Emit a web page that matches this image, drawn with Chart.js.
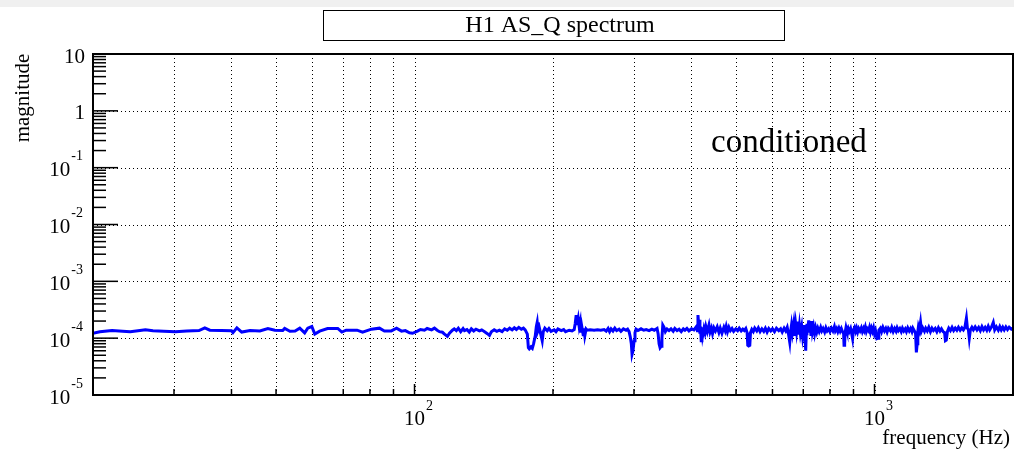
<!DOCTYPE html>
<html lang="en">
<head>
<meta charset="UTF-8">
<title>H1 AS_Q spectrum</title>
<script src="https://cdn.jsdelivr.net/npm/chart.js"></script>
<style>
  body { margin: 0; background: #fff; }
  #topBand { position: absolute; left: 0; top: 0; width: 1014px; height: 7px; background: #f0f0f0; }
  #wrap { position: absolute; left: 0; top: 0; width: 1014px; height: 450px; }
</style>
</head>
<body>
<div id="topBand"></div>
<div id="wrap"><canvas id="specChart"></canvas></div>
<script>
// spectrum (Hz, magnitude)
const freqHz = [
  20.0, 20.7, 22.0, 23.2, 24.1, 25.3, 26.0, 27.0, 28.5, 30.2, 32.0, 34.0, 35.0, 35.9, 38.0, 40.0, 40.3, 41.1, 42.1, 43.9,
  46.1, 48.0, 49.7, 51.7, 52.2, 53.6, 55.0, 56.3, 57.7, 58.6, 59.8, 60.7, 62.2, 64.7, 68.1, 69.5, 71.0, 75.0, 77.1, 80.6,
  83.9, 86.0, 89.0, 91.4, 93.7, 95.5, 97.5, 99.0, 101.5, 103.0, 105.1, 106.5, 108.9, 110.5, 112.0, 113.3, 115.0, 116.2, 117.9, 119.1,
  120.9, 122.0, 123.3, 124.5, 126.0, 127.5, 128.4, 130.0, 131.5, 132.9, 134.5, 136.0, 138.4, 140.0, 142.0, 144.0, 145.5, 146.9, 149.0, 151.0,
  152.9, 155.0, 157.0, 159.1, 161.0, 163.0, 164.8, 166.5, 168.5, 170.7, 172.5, 174.0, 175.9, 176.8, 177.6, 179.0, 180.3, 181.5, 183.0, 184.0,
  184.8, 185.5, 186.7, 188.0, 189.5, 190.5, 192.0, 194.3, 196.0, 198.0, 201.2, 203.0, 205.0, 208.4, 211.0, 213.0, 216.9, 220.0, 222.4, 223.5,
  224.6, 225.5, 226.9, 228.0, 229.2, 230.0, 231.0, 232.6, 233.5, 234.5, 236.0, 237.3, 241.0, 245.7, 250.0, 254.0, 258.3, 261.0, 263.5, 265.5,
  267.5, 270.0, 272.5, 275.0, 278.4, 281.0, 284.5, 288.3, 290.5, 292.7, 294.5, 296.0, 297.1, 298.5, 300.1, 301.5, 303.1, 306.0, 310.8, 315.0,
  319.0, 323.5, 328.0, 332.0, 336.7, 338.5, 340.1, 341.8, 343.5, 345.0, 346.5, 348.7, 351.0, 354.0, 357.5, 361.0, 365.0, 368.0, 372.1, 376.0,
  380.0, 384.0, 387.2, 391.0, 395.0, 400.0, 405.0, 408.0, 410.5, 412.0, 413.2, 414.5, 415.5, 417.3, 418.5, 420.0, 421.5, 423.0, 425.8, 428.0,
  430.0, 433.0, 436.6, 439.0, 442.0, 444.5, 447.6, 451.0, 455.0, 458.9, 462.0, 466.0, 470.5, 473.5, 476.0, 479.0, 482.4, 486.0, 490.0, 494.0,
  499.4, 504.0, 508.0, 513.0, 517.2, 521.0, 525.0, 528.5, 530.2, 532.5, 535.6, 537.5, 541.0, 545.0, 549.0, 554.6, 559.0, 564.0, 569.0, 574.4,
  579.0, 584.0, 589.0, 594.9, 600.0, 606.0, 612.0, 619.2, 625.0, 630.0, 636.0, 641.2, 646.0, 650.0, 654.2, 657.0, 660.0, 663.0, 667.4, 670.5,
  674.0, 677.0, 680.8, 684.0, 687.0, 690.0, 694.5, 698.0, 701.0, 704.0, 706.5, 708.6, 710.5, 713.0, 716.0, 719.3, 722.0, 725.0, 727.5, 730.2,
  733.0, 737.0, 741.0, 744.9, 749.0, 753.0, 758.0, 763.7, 768.0, 773.0, 779.0, 784.0, 789.0, 794.8, 800.0, 806.0, 812.0, 818.0, 822.0, 827.3,
  832.0, 837.0, 842.0, 847.0, 852.0, 856.7, 858.5, 861.0, 863.0, 867.0, 871.0, 876.0, 881.0, 887.1, 892.0, 896.1, 900.0, 905.0, 910.0, 914.2,
  919.0, 924.0, 930.0, 936.0, 941.0, 946.6, 950.0, 955.0, 960.0, 965.0, 970.5, 975.0, 980.0, 985.0, 990.0, 995.0, 1000, 1005, 1012, 1018,
  1022, 1030, 1036, 1043, 1051, 1058, 1065, 1072, 1083, 1090, 1098, 1106, 1114, 1120, 1127, 1135, 1143, 1150, 1158, 1166,
  1173, 1181, 1190, 1198, 1206, 1212, 1220, 1228, 1233, 1238, 1242, 1246, 1252, 1259, 1265, 1273, 1284, 1292, 1302, 1312,
  1323, 1333, 1343, 1355, 1366, 1377, 1388, 1398, 1410, 1420, 1426, 1432, 1440, 1450, 1462, 1474, 1486, 1498, 1510, 1522,
  1535, 1548, 1560, 1572, 1584, 1592, 1600, 1607, 1615, 1628, 1640, 1655, 1670, 1684, 1698, 1712, 1726, 1740, 1754, 1767,
  1780, 1795, 1812, 1825, 1840, 1858, 1872, 1886, 1900, 1914, 1930, 1946, 1962, 1983, 2000
];
const magnitude = [
  1.22e-4, 1.30e-4, 1.36e-4, 1.33e-4, 1.30e-4, 1.36e-4, 1.40e-4, 1.35e-4, 1.33e-4, 1.30e-4, 1.34e-4, 1.36e-4, 1.52e-4, 1.38e-4, 1.36e-4, 1.35e-4, 1.25e-4, 1.52e-4, 1.28e-4, 1.36e-4,
  1.34e-4, 1.48e-4, 1.38e-4, 1.36e-4, 1.48e-4, 1.32e-4, 1.34e-4, 1.50e-4, 1.24e-4, 1.50e-4, 1.60e-4, 1.18e-4, 1.33e-4, 1.48e-4, 1.48e-4, 1.28e-4, 1.38e-4, 1.38e-4, 1.27e-4, 1.44e-4,
  1.50e-4, 1.34e-4, 1.34e-4, 1.50e-4, 1.33e-4, 1.36e-4, 1.24e-4, 1.22e-4, 1.33e-4, 1.42e-4, 1.38e-4, 1.48e-4, 1.40e-4, 1.50e-4, 1.38e-4, 1.30e-4, 1.27e-4, 1.18e-4, 1.08e-4, 1.22e-4,
  1.38e-4, 1.46e-4, 1.36e-4, 1.50e-4, 1.30e-4, 1.48e-4, 1.36e-4, 1.42e-4, 1.28e-4, 1.46e-4, 1.34e-4, 1.44e-4, 1.34e-4, 1.40e-4, 1.30e-4, 1.20e-4, 1.12e-4, 1.30e-4, 1.40e-4, 1.32e-4,
  1.38e-4, 1.30e-4, 1.46e-4, 1.38e-4, 1.50e-4, 1.40e-4, 1.52e-4, 1.42e-4, 1.55e-4, 1.44e-4, 1.50e-4, 1.40e-4, 1.18e-4, 6.8e-5, 6.5e-5, 7.0e-5, 6.6e-5, 8.0e-5, 1.10e-4, 1.60e-4,
  1.90e-4, 1.35e-4, 1.55e-4, 1.20e-4, 9.0e-5, 1.30e-4, 1.50e-4, 1.35e-4, 1.48e-4, 1.32e-4, 1.40e-4, 1.30e-4, 1.45e-4, 1.36e-4, 1.42e-4, 1.30e-4, 1.38e-4, 1.34e-4, 1.42e-4, 1.80e-4,
  2.55e-4, 1.70e-4, 2.20e-4, 1.60e-4, 1.95e-4, 1.25e-4, 1.60e-4, 1.15e-4, 1.50e-4, 1.10e-4, 1.45e-4, 1.38e-4, 1.40e-4, 1.38e-4, 1.40e-4, 1.38e-4, 1.42e-4, 1.33e-4, 1.48e-4, 1.30e-4,
  1.46e-4, 1.34e-4, 1.50e-4, 1.36e-4, 1.44e-4, 1.32e-4, 1.46e-4, 1.38e-4, 1.44e-4, 1.30e-4, 1.05e-4, 8.0e-5, 5.2e-5, 6.0e-5, 9.0e-5, 1.25e-4, 1.44e-4, 1.36e-4, 1.46e-4, 1.38e-4,
  1.42e-4, 1.36e-4, 1.44e-4, 1.38e-4, 1.48e-4, 1.20e-4, 8.0e-5, 6.8e-5, 7.2e-5, 1.00e-4, 1.70e-4, 1.55e-4, 1.30e-4, 1.45e-4, 1.36e-4, 1.46e-4, 1.32e-4, 1.48e-4, 1.36e-4, 1.44e-4,
  1.30e-4, 1.46e-4, 1.38e-4, 1.48e-4, 1.34e-4, 1.46e-4, 1.40e-4, 1.52e-4, 1.62e-4, 1.35e-4, 2.55e-4, 1.80e-4, 2.10e-4, 1.20e-4, 1.60e-4, 9.0e-5, 1.55e-4, 1.10e-4, 1.48e-4, 1.25e-4,
  1.60e-4, 1.30e-4, 1.70e-4, 1.28e-4, 1.50e-4, 1.20e-4, 1.52e-4, 1.34e-4, 1.58e-4, 1.26e-4, 1.50e-4, 1.22e-4, 1.55e-4, 1.35e-4, 1.62e-4, 1.30e-4, 1.56e-4, 1.36e-4, 1.48e-4, 1.32e-4,
  1.46e-4, 1.36e-4, 1.50e-4, 1.34e-4, 1.44e-4, 1.36e-4, 1.48e-4, 1.25e-4, 7.5e-5, 7.3e-5, 7.5e-5, 1.25e-4, 1.42e-4, 1.30e-4, 1.50e-4, 1.34e-4, 1.52e-4, 1.30e-4, 1.46e-4, 1.32e-4,
  1.50e-4, 1.28e-4, 1.48e-4, 1.34e-4, 1.46e-4, 1.30e-4, 1.50e-4, 1.36e-4, 1.46e-4, 1.28e-4, 1.50e-4, 1.34e-4, 1.55e-4, 1.20e-4, 8.5e-5, 1.30e-4, 1.70e-4, 1.25e-4, 1.80e-4, 1.10e-4,
  1.75e-4, 1.30e-4, 1.95e-4, 1.15e-4, 1.65e-4, 1.20e-4, 1.60e-4, 1.05e-4, 1.30e-4, 1.70e-4, 9.5e-5, 6.0e-5, 1.20e-4, 1.80e-4, 1.30e-4, 2.05e-4, 1.25e-4, 1.75e-4, 1.10e-4, 2.00e-4,
  1.30e-4, 1.60e-4, 1.20e-4, 1.52e-4, 1.28e-4, 1.50e-4, 1.30e-4, 1.55e-4, 1.34e-4, 1.48e-4, 1.28e-4, 1.52e-4, 1.34e-4, 1.46e-4, 1.30e-4, 1.50e-4, 1.34e-4, 1.60e-4, 1.34e-4, 1.48e-4,
  1.30e-4, 1.50e-4, 1.32e-4, 1.48e-4, 1.30e-4, 1.20e-4, 7.5e-5, 7.8e-5, 1.25e-4, 1.55e-4, 1.34e-4, 1.50e-4, 1.30e-4, 1.48e-4, 1.20e-4, 9.8e-5, 1.40e-4, 1.55e-4, 1.32e-4, 1.50e-4,
  1.28e-4, 1.48e-4, 1.34e-4, 1.52e-4, 1.30e-4, 1.48e-4, 1.36e-4, 1.58e-4, 1.30e-4, 1.46e-4, 1.36e-4, 1.55e-4, 1.28e-4, 1.50e-4, 1.32e-4, 1.52e-4, 1.20e-4, 1.35e-4, 9.8e-5, 1.00e-4,
  1.38e-4, 1.50e-4, 1.30e-4, 1.55e-4, 1.34e-4, 1.48e-4, 1.28e-4, 1.50e-4, 1.34e-4, 1.55e-4, 1.30e-4, 1.48e-4, 1.32e-4, 1.52e-4, 1.36e-4, 1.48e-4, 1.30e-4, 1.50e-4, 1.34e-4, 1.46e-4,
  1.30e-4, 1.52e-4, 1.34e-4, 1.48e-4, 1.30e-4, 1.50e-4, 1.36e-4, 1.22e-4, 5.6e-5, 8.0e-5, 1.30e-4, 1.60e-4, 1.40e-4, 1.90e-4, 1.34e-4, 1.52e-4, 1.32e-4, 1.50e-4, 1.34e-4, 1.55e-4,
  1.30e-4, 1.50e-4, 1.36e-4, 1.48e-4, 1.30e-4, 1.52e-4, 1.34e-4, 1.46e-4, 1.30e-4, 1.25e-4, 9.0e-5, 9.2e-5, 1.30e-4, 1.50e-4, 1.36e-4, 1.55e-4, 1.36e-4, 1.50e-4, 1.38e-4, 1.55e-4,
  1.38e-4, 1.52e-4, 1.40e-4, 1.55e-4, 2.25e-4, 1.50e-4, 1.40e-4, 1.00e-4, 1.38e-4, 1.55e-4, 1.40e-4, 1.58e-4, 1.40e-4, 1.55e-4, 1.36e-4, 1.60e-4, 1.40e-4, 1.55e-4, 1.38e-4, 1.62e-4,
  1.40e-4, 1.56e-4, 1.90e-4, 1.40e-4, 1.58e-4, 1.38e-4, 1.60e-4, 1.40e-4, 1.56e-4, 1.40e-4, 1.58e-4, 1.42e-4, 1.56e-4, 1.44e-4, 1.50e-4
];

// axis decorations
const xGridValues = [30, 40, 50, 60, 70, 80, 90, 100, 200, 300, 400, 500, 600, 700, 800, 900, 1000];
const xMajorValues = [100, 1000];
const xMajorExp = ['2', '3'];
const yDecadeValues = [1e-5, 1e-4, 1e-3, 1e-2, 1e-1, 1, 10];
const yLabelBase = ['10', '10', '10', '10', '10', '1', '10'];
const yLabelExp = ['-5', '-4', '-3', '-2', '-1', '', ''];
const yGridValues = [1e-4, 1e-3, 1e-2, 1e-1, 1];

const serif = '"Liberation Serif", "DejaVu Serif", serif';

function seg(ctx, x1, y1, x2, y2) {
    ctx.beginPath();
    ctx.moveTo(x1, y1);
    ctx.lineTo(x2, y2);
    ctx.stroke();
}

const rootStyle = {
    id: 'rootStyle',
    beforeDatasetsDraw(chart) {
        const { ctx, chartArea: a, scales: { x, y } } = chart;
        ctx.save();
        ctx.strokeStyle = '#000';
        ctx.lineWidth = 1;
        ctx.setLineDash([1, 3]);
        xGridValues.forEach(v => {
            const px = Math.round(x.getPixelForValue(v)) + 0.5;
            seg(ctx, px, a.top, px, a.bottom);
        });
        yGridValues.forEach(v => {
            const py = Math.round(y.getPixelForValue(v)) + 0.5;
            seg(ctx, a.left, py, a.right, py);
        });
        ctx.restore();
    },
    afterDraw(chart) {
        const { ctx, chartArea: a, scales: { x, y } } = chart;
        ctx.save();
        ctx.strokeStyle = '#000';
        ctx.fillStyle = '#000';

        // frame
        ctx.lineWidth = 2;
        ctx.strokeRect(a.left, a.top, a.right - a.left, a.bottom - a.top);

        // y ticks
        ctx.lineWidth = 1.5;
        for (let d = 0; d < yDecadeValues.length; d++) {
            const dec = yDecadeValues[d];
            const py = y.getPixelForValue(dec);
            if (d > 0 && d < yDecadeValues.length - 1) seg(ctx, a.left, py, a.left + 25, py);
            if (dec < 10) {
                for (let m = 2; m <= 9; m++) {
                    const my = y.getPixelForValue(dec * m);
                    seg(ctx, a.left, my, a.left + 13, my);
                }
            }
        }
        // x ticks
        xGridValues.concat([2000]).forEach(v => {
            const px = x.getPixelForValue(v);
            const len = xMajorValues.includes(v) ? 11 : 6;
            seg(ctx, px, a.bottom, px, a.bottom - len);
        });

        // y labels
        ctx.textBaseline = 'middle';
        yDecadeValues.forEach((v, i) => {
            const py = y.getPixelForValue(v) + 3;
            ctx.font = '21px ' + serif;
            const bw = ctx.measureText(yLabelBase[i]).width;
            ctx.font = '14px ' + serif;
            const ew = yLabelExp[i] ? ctx.measureText(yLabelExp[i]).width : 0;
            const right = yLabelExp[i] ? 82 : 85;
            const start = right - bw - ew;
            ctx.textAlign = 'left';
            ctx.font = '21px ' + serif;
            ctx.fillText(yLabelBase[i], start, py);
            if (yLabelExp[i]) {
                ctx.font = '14px ' + serif;
                ctx.fillText(yLabelExp[i], start + bw + 1, py - 14);
            }
        });

        // x labels
        xMajorValues.forEach((v, i) => {
            const px = x.getPixelForValue(v);
            ctx.font = '21px ' + serif;
            ctx.textAlign = 'center';
            ctx.fillText('10', px, 419);
            const bw = ctx.measureText('10').width;
            ctx.font = '14px ' + serif;
            ctx.textAlign = 'left';
            ctx.fillText(xMajorExp[i], px + bw / 2 + 1, 406);
        });

        // axis titles
        ctx.font = '21px ' + serif;
        ctx.textAlign = 'right';
        ctx.fillText('frequency (Hz)', 1010, 438);
        ctx.save();
        ctx.translate(23, 98);
        ctx.rotate(-Math.PI / 2);
        ctx.textAlign = 'center';
        ctx.fillText('magnitude', 0, 0);
        ctx.restore();

        // title box
        ctx.lineWidth = 1;
        ctx.fillStyle = '#fff';
        ctx.fillRect(323, 10, 461, 30);
        ctx.strokeRect(323.5, 10.5, 461, 30);
        ctx.fillStyle = '#000';
        ctx.font = '24px ' + serif;
        ctx.textAlign = 'center';
        ctx.fillText('H1 AS_Q spectrum', 560, 26);

        // annotation
        ctx.font = '33px ' + serif;
        ctx.textAlign = 'left';
        ctx.fillText('conditioned', 711, 143);
        ctx.restore();
    }
};

const points = freqHz.map((f, i) => ({ x: f, y: magnitude[i] }));

new Chart(document.getElementById('specChart'), {
    type: 'line',
    data: {
        datasets: [{
            label: 'H1 AS_Q',
            data: points,
            borderColor: '#0000ff',
            borderWidth: 3,
            pointRadius: 0,
            tension: 0,
            fill: false
        }]
    },
    options: {
        responsive: true,
        maintainAspectRatio: false,
        animation: false,
        layout: { padding: { left: 93, right: 1, top: 54, bottom: 55 } },
        plugins: { legend: { display: false }, tooltip: { enabled: false } },
        scales: {
            x: { type: 'logarithmic', min: 20, max: 2000, display: false },
            y: { type: 'logarithmic', min: 1e-5, max: 10, display: false }
        }
    },
    plugins: [rootStyle]
});
</script>
</body>
</html>
